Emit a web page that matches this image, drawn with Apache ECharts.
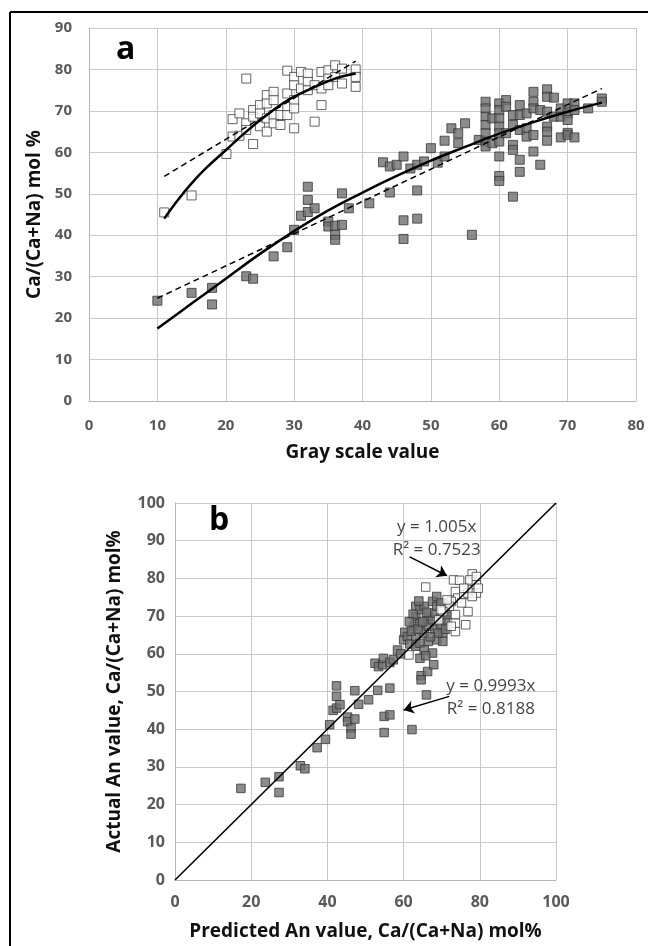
<!DOCTYPE html>
<html>
<head>
<meta charset="utf-8">
<script src="https://cdn.jsdelivr.net/npm/echarts@6/dist/echarts.min.js"></script>
<style>
  html, body { margin: 0; padding: 0; background: #fff; }
  #main { width: 648px; height: 946px; }
</style>
</head>
<body>
<div id="main"></div>
<script>
// ---- panel a: gray scale value vs Ca/(Ca+Na) ----
var whiteGray = [11,15,20.1,21,22,21,22,23,23,23,24,24,24,25,25,25,26,26,26,26,27,27,27,27,28,28,29,29,29,29,30,30,30,30,30,31,31,32,32,32,33,33,34,34,34,35,35,35,36,36,37,37,39,39,39];
var whiteAn   = [45.5,49.6,59.6,63.8,64,68,69.4,77.8,67,65.4,62,70.2,68.6,71.4,69.4,66.3,73.8,71.8,68.2,65,74.6,72.6,69,67,69,66.6,79.7,74.2,71,69,78.2,76.2,72.6,70.6,65.8,79.4,75.4,79,77,75,76.2,67.4,79.4,75.4,71.4,79.8,77.8,76.2,81,78.2,80.2,76.6,80,78.2,75.8];

var grayGray = [10,15,18,18,23,24,27,29,30,31,32,32,32,33,35,35,36,36,36,37,37,38,41,43,44,44,45,46,46,46,47,48,48,48,49,50,51,52,52,53,54,54,55,56,57,
  58,58,58,58,58,58,58,59,59,60,60,60,60,60,60,60,60,60,61,61,61,62,62,62,62,62,63,63,63,63,63,64,64,64,65,65,65,65,65,66,66,
  67,67,67,67,67,67,68,68,69,69,69,70,70,70,70,70,71,71,71,73,75,75];
var grayAn = [24.2,26.1,27.3,23.3,30.1,29.5,34.9,37.1,41.3,44.7,51.7,48.5,45.6,46.5,43.3,42.1,40.1,38.9,42.3,50.1,42.5,46.5,47.7,57.6,56.6,50.3,57,59,43.6,39.1,56.1,57,50.8,44,57.8,61,57.5,59,62.8,65.8,64.6,62.2,67,40.1,63,
  72.2,70.6,68.6,66.6,64.6,62.6,61.4,68.2,62.2,71.8,70.2,68.2,66.2,64.6,62.6,59,54.3,53.1,72.6,71,64.6,69,66.6,61.8,60.6,49.3,71.4,69,65.4,58.2,55.3,69.4,65.8,63.8,74.6,72.2,70.6,64.2,60.2,70.2,57,
  75.2,73.4,69.8,66.2,65,62.8,73.2,68.6,70.6,68.6,63.6,71.8,69.4,67.8,64.7,64.2,71.8,70.2,63.6,70.6,73,72.2];

// trend lines
var whiteFitX = [11,13,15,17,20,23,26,29,32,35,37,39];
var whiteFitY = [44,48.5,52.5,56,60.5,65,69,72.5,75,77.2,78.3,79];
var whiteLinX = [11,39];
var whiteLinY = [54.2,82];
var grayFitX = [10,15,20,25,30,35,40,45,50,55,60,65,70,75];
var grayFitY = [17.5,23.5,29.5,35.5,41,46,50.3,54.3,58,61.3,64.5,67.3,69.8,72];
var grayLinX = [10,75];
var grayLinY = [24.8,75.4];

// ---- panel b: predicted vs actual ----
var whitePred = [65.8,61.4,73.1,74.7,78,77.4,79.1,73.6,74.2,72.5,76.9,76.3,73.6,73.6,73.6,72,72.5,75.8,76.9,78,79.1,79.1,78,75.2,70.3,69.2,75.8,79.6,71.4,69.8];
var whiteAct  = [77.7,59.7,79.6,79.5,81.2,79.6,80.5,76.5,74.8,73.9,71.2,67.7,70.4,68.1,65.9,72.6,67.3,75.7,76.1,77,78.3,76.1,75.2,73.5,71.2,69,77.4,77.4,74.3,71.7];

var grayPred = [17.3,23.7,27.3,27.3,32.9,34.1,37.3,39.5,40.6,41.5,42.4,42.4,42.4,43.3,45.3,45.3,46.2,46.2,47.2,47.2,48.2,50.8,52.5,53.4,53.2,54.5,54.7,54.9,54.9,56.4,56.4,56.4,57.3,58.4,
  60,60.3,61,61.6,62.2,62.7,63.2,63.2,63.2,63.2,64.3,64.3,64.3,64.3,64.6,64.6,65.4,65.4,65.4,66,66.3,66.5,66.5,66.5,67.6,67.6,67.6,67.9,68.2,68.2,68.7,68.7,68.7,69.8,69.8,69.8,70.3,70.3,70.9,70.9,71.4,
  62,63.8,65,66,62.5,64,59.3,61.5,69,71,67,65.8];
var grayAct = [24.3,25.9,27.4,23.2,30.3,29.5,35.1,37.3,41.2,45,51.5,48.7,45.6,46.5,43.2,42,40.3,38.7,50.2,42.7,46.6,47.8,57.5,56.6,50.3,57.1,58.8,43.4,39.1,57.7,50.9,43.8,58.4,61,
  63.7,65.7,64.6,62.6,39.9,67.3,72.6,69.9,64.6,62,71.7,68.1,62.8,58.8,54.2,53.1,72.6,65.5,61,49.1,55.3,69.9,67.3,63.3,73.9,69,60.2,57.1,70.8,66.4,75.2,72.6,63.7,73.5,69.5,67.3,65.5,63.3,71.7,69,70.4,
  66,66.5,68.5,71,70.5,74,60,68.5,65.5,66.5,64.5,59.5];

var oneToOneX = [0,100];
var oneToOneY = [0,100];

var noteText = ['y = 1.005x\nR\u00b2 = 0.7523', 'y = 0.9993x\nR\u00b2 = 0.8188'];
var notePos = [[68.7,90.5],[82.9,48.4]];
var arrowFrom = [[61.6,85.7],[72,48.7]];
var arrowTo = [[71.4,80.7],[60,45.1]];

function zip(xs, ys) {
  return xs.map(function (x, i) { return [x, ys[i]]; });
}

var FONT = '"Open Sans", "Noto Sans", sans-serif';
var chart = echarts.init(document.getElementById('main'));

function tickLabels(size, margin) {
  return { color: '#595959', fontWeight: 'bold', fontFamily: FONT, fontSize: size, margin: margin };
}

function valueAxis(idx, min, max, step, extra) {
  var a = {
    type: 'value', gridIndex: idx, min: min, max: max, interval: step,
    axisLine: { show: true, lineStyle: { color: '#b5b5b5', width: 1 } },
    axisTick: { show: false },
    splitLine: { show: true, lineStyle: { color: '#c9c9c9', width: 1 } },
    nameLocation: 'middle',
    nameTextStyle: { color: '#111', fontWeight: 'bold', fontFamily: FONT, fontSize: 19 }
  };
  return Object.assign(a, extra);
}

var whiteSym = { color: '#ffffff', borderColor: '#3f3f3f', borderWidth: 1 };
var graySym = { color: '#6f6f6f', borderColor: '#363636', borderWidth: 1 };

var option = {
  backgroundColor: '#fff',
  animation: false,
  title: [
    { text: 'a', left: 111, top: 29, textStyle: { fontSize: 32, fontWeight: 'bold', fontFamily: FONT, color: '#000' } },
    { text: 'b', left: 204, top: 500, textStyle: { fontSize: 32, fontWeight: 'bold', fontFamily: FONT, color: '#000' } }
  ],
  graphic: [
    { type: 'line', shape: { x1: 10, y1: 12, x2: 648, y2: 12 }, style: { stroke: '#000', lineWidth: 2 } },
    { type: 'line', shape: { x1: 10, y1: 12, x2: 10, y2: 946 }, style: { stroke: '#000', lineWidth: 2 } }
  ],
  grid: [
    { left: 89, top: 28, width: 547, height: 373 },
    { left: 175, top: 503, width: 381, height: 377 }
  ],
  xAxis: [
    valueAxis(0, 0, 80, 10, { name: 'Gray scale value', nameGap: 42, axisLabel: tickLabels(15, 17) }),
    valueAxis(1, 0, 100, 20, { name: 'Predicted An value, Ca/(Ca+Na) mol%', nameGap: 42, axisLabel: tickLabels(16, 14) })
  ],
  yAxis: [
    valueAxis(0, 0, 90, 10, { name: 'Ca/(Ca+Na) mol %', nameGap: 42, axisLabel: tickLabels(15, 17) }),
    valueAxis(1, 0, 100, 10, { name: 'Actual An value, Ca/(Ca+Na) mol%', nameGap: 51, axisLabel: tickLabels(16, 10) })
  ],
  series: [
    // panel a
    { type: 'scatter', xAxisIndex: 0, yAxisIndex: 0, symbol: 'rect', symbolSize: 9, itemStyle: graySym, data: zip(grayGray, grayAn) },
    { type: 'scatter', xAxisIndex: 0, yAxisIndex: 0, symbol: 'rect', symbolSize: 9, itemStyle: whiteSym, data: zip(whiteGray, whiteAn) },
    { type: 'line', xAxisIndex: 0, yAxisIndex: 0, data: zip(whiteLinX, whiteLinY), showSymbol: false, lineStyle: { color: '#000', width: 1.5, type: [6, 4] } },
    { type: 'line', xAxisIndex: 0, yAxisIndex: 0, data: zip(grayLinX, grayLinY), showSymbol: false, lineStyle: { color: '#000', width: 1.5, type: [6, 4] } },
    { type: 'line', xAxisIndex: 0, yAxisIndex: 0, data: zip(whiteFitX, whiteFitY), smooth: 0.4, showSymbol: false, lineStyle: { color: '#000', width: 2.5 } },
    { type: 'line', xAxisIndex: 0, yAxisIndex: 0, data: zip(grayFitX, grayFitY), smooth: 0.4, showSymbol: false, lineStyle: { color: '#000', width: 2.5 } },
    // panel b
    { type: 'scatter', xAxisIndex: 1, yAxisIndex: 1, symbol: 'rect', symbolSize: 8.5, itemStyle: graySym, data: zip(grayPred, grayAct) },
    { type: 'scatter', xAxisIndex: 1, yAxisIndex: 1, symbol: 'rect', symbolSize: 8.5, itemStyle: whiteSym, data: zip(whitePred, whiteAct) },
    { type: 'line', xAxisIndex: 1, yAxisIndex: 1, data: zip(oneToOneX, oneToOneY), showSymbol: false, lineStyle: { color: '#000', width: 1.6 } },
    {
      type: 'scatter', xAxisIndex: 1, yAxisIndex: 1, symbolSize: 1, silent: true,
      itemStyle: { color: 'rgba(0,0,0,0)' },
      label: { show: true, position: 'inside', color: '#111', fontFamily: FONT, fontSize: 17, lineHeight: 23, align: 'center',
        formatter: function (p) { return p.name; } },
      data: notePos.map(function (v, i) { return { name: noteText[i], value: v }; }),
      markLine: {
        silent: true, symbol: ['none', 'arrow'], symbolSize: 10,
        lineStyle: { color: '#000', width: 1.5, type: 'solid' },
        label: { show: false },
        data: arrowFrom.map(function (f, i) { return [{ coord: f }, { coord: arrowTo[i] }]; })
      }
    }
  ]
};

chart.setOption(option);
</script>
</body>
</html>
